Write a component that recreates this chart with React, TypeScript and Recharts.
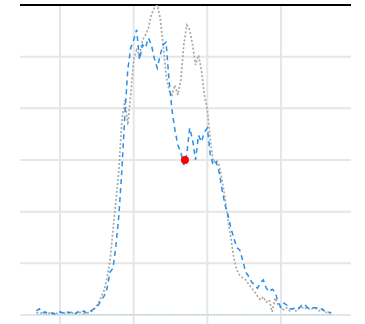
import { LineChart, Line, XAxis, YAxis, CartesianGrid, ReferenceLine, ReferenceDot } from "recharts";

const START = 12;

const blueValues = [
  0.08, 0.12, 0.04, 0.06, 0.02, 0.04, 0.02, 0.04, 0.06, 0.04, 0.08, 0.04, 0.06, 0.02, 0.06, 0.04, 0.08, 0.04, 0.06,
  0.1, 0.14, 0.19, 0.29, 0.37, 0.52, 0.83, 0.91, 1.35, 1.94, 2.81, 3.87, 4.74, 5.17, 5.32, 5.52, 4.94, 5.23, 5.17,
  5.36, 5.23, 4.97, 4.78, 5.03, 5.23, 5.28, 4.55, 3.97, 3.58, 3.29, 3.15, 2.9, 3.1, 3.62, 3.39, 3.0, 3.48, 3.35,
  3.54, 3.62, 3.1, 2.9, 2.96, 2.77, 2.42, 2.13, 1.94, 1.68, 1.49, 1.3, 1.26, 1.06, 0.83, 0.75, 0.64, 0.58, 0.52,
  0.62, 0.68, 0.52, 0.45, 0.5, 0.45, 0.25, 0.15, 0.23, 0.19, 0.12, 0.12, 0.14, 0.12, 0.19, 0.21, 0.14, 0.12, 0.14,
  0.14, 0.1, 0.12, 0.06, 0.06, 0.04,
];

const greyValues = [
  0.04, 0.05, 0.03, 0.04, 0.03, 0.05, 0.04, 0.03, 0.05, 0.04, 0.03, 0.05, 0.04, 0.03, 0.04, 0.05, 0.03, 0.04, 0.05,
  0.08, 0.14, 0.23, 0.35, 0.48, 0.72, 1.06, 1.65, 2.23, 2.81, 3.77, 4.16, 3.68, 4.26, 4.94, 5.13, 5.03, 5.32, 5.42,
  5.55, 5.81, 5.94, 6.0, 5.75, 5.23, 4.65, 4.35, 4.26, 4.45, 4.26, 4.55, 5.23, 5.61, 5.52, 5.23, 4.84, 5.03, 4.74,
  4.26, 3.97, 3.39, 2.96, 3.0, 2.9, 2.61, 2.26, 1.84, 1.49, 1.1, 0.87, 0.77, 0.72, 0.68, 0.6, 0.52, 0.45, 0.37,
  0.29, 0.35, 0.25, 0.29, 0.06, 0.33, 0.19, 0.14, 0.1, 0.14, 0.08, 0.12, 0.08, 0.14, 0.15, 0.12, 0.15, 0.1, 0.14,
  0.12, 0.08, 0.1, 0.06, 0.04, 0.04,
];

const xTicks = [20, 45, 70, 95];
const yTicks = [0, 1, 2, 3, 4, 5, 6];
const marker = { x: 62.4, y: 3.0 };

const data = blueValues.map((v, i) => ({
  x: START + i,
  blue: v,
  grey: greyValues[i],
  base: 0,
}));

// no labels in the picture, only tick lines
const EmptyTick = () => <g />;

export default function App() {
  return (
    <div style={{ position: "absolute", left: 0, top: 0, background: "#fff" }}>
      <LineChart width={365} height={324} data={data} margin={{ top: 5, right: 14, left: 20, bottom: 0 }}>
        <CartesianGrid stroke="#e6e6e6" strokeWidth={2} syncWithTicks />
        <XAxis
          dataKey="x"
          type="number"
          domain={[6.43, 118.75]}
          ticks={xTicks}
          interval={0}
          allowDataOverflow
          height={9}
          tickSize={9}
          axisLine={false}
          tick={EmptyTick}
          tickLine={{ stroke: "#e6e6e6", strokeWidth: 2 }}
        />
        <YAxis
          type="number"
          domain={[0, 6]}
          ticks={yTicks}
          interval={0}
          width={0}
          tick={EmptyTick}
          axisLine={false}
          tickLine={false}
          allowDataOverflow
        />
        <ReferenceLine y={6} stroke="#000" strokeWidth={2} />
        <Line dataKey="base" stroke="#9fd3d8" strokeWidth={2} strokeDasharray="1.5 1.5" dot={false} isAnimationActive={false} />
        <Line dataKey="grey" stroke="#a8a8a8" strokeWidth={1.7} strokeDasharray="2 2" dot={false} isAnimationActive={false} />
        <Line dataKey="blue" stroke="#2590ee" strokeWidth={1.5} strokeDasharray="5 4" dot={false} isAnimationActive={false} />
        <ReferenceDot x={marker.x} y={marker.y} r={4} fill="#ff0000" stroke="none" />
      </LineChart>
    </div>
  );
}
